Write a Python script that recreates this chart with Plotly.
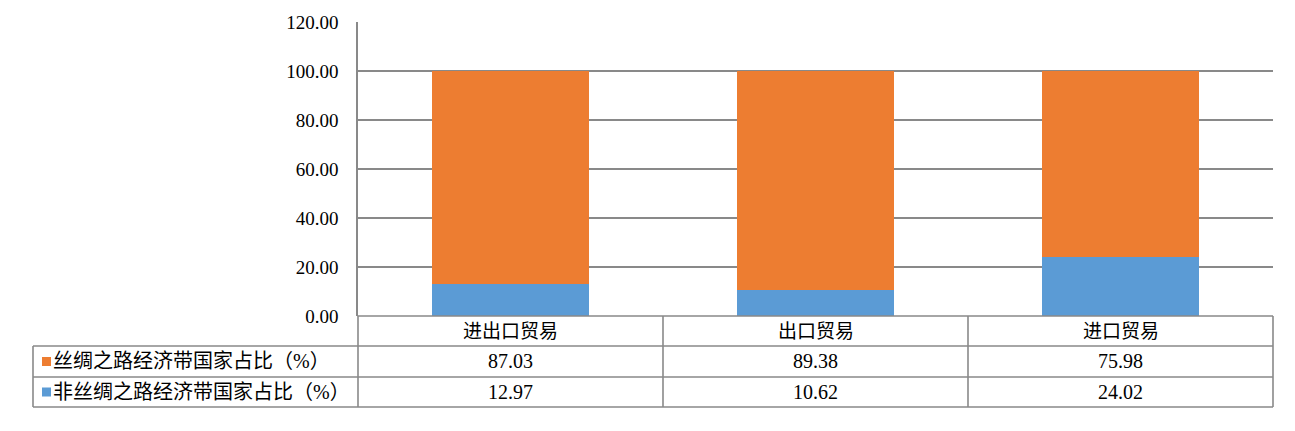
import plotly.graph_objects as go

categories = ["进出口贸易", "出口贸易", "进口贸易"]
series_names = ["丝绸之路经济带国家占比（%）", "非丝绸之路经济带国家占比（%）"]
silk_values = [87.03, 89.38, 75.98]
non_silk_values = [12.97, 10.62, 24.02]
y_ticks = [0, 20, 40, 60, 80, 100, 120]

ORANGE = "#ED7D31"
BLUE = "#5B9BD5"
GRID = "#898989"
FONT = "'Liberation Serif', 'Times New Roman', 'Noto Sans CJK SC', serif"

W, H = 1295, 431
OFF = 8  # page body margin
L, R, T, B = 358, 1273, 22, 316  # plot area pixels (page coordinates)

def px(x):
    return (x - L) / (R - L)

def py(y):
    return (B - y) / (B - T)

fig = go.Figure()
fig.add_trace(go.Bar(x=categories, y=non_silk_values, name=series_names[1],
                     marker=dict(color=BLUE, line=dict(width=0))))
fig.add_trace(go.Bar(x=categories, y=silk_values, name=series_names[0],
                     marker=dict(color=ORANGE, line=dict(width=0))))

LW = 1.6
shapes = []
row_y = [316, 346, 377, 407]
col_x = [358, 663, 968, 1273]
left_x = 33
shapes.append(dict(type="line", xref="paper", yref="paper", x0=px(col_x[0]), x1=px(col_x[-1]),
                   y0=py(row_y[0]), y1=py(row_y[0]), line=dict(color=GRID, width=LW)))
for yy in row_y[1:]:
    shapes.append(dict(type="line", xref="paper", yref="paper", x0=px(left_x), x1=px(col_x[-1]),
                       y0=py(yy), y1=py(yy), line=dict(color=GRID, width=LW)))
for xx in col_x:
    shapes.append(dict(type="line", xref="paper", yref="paper", x0=px(xx), x1=px(xx),
                       y0=py(row_y[0]), y1=py(row_y[-1]), line=dict(color=GRID, width=LW)))
shapes.append(dict(type="line", xref="paper", yref="paper", x0=px(left_x), x1=px(left_x),
                   y0=py(row_y[1]), y1=py(row_y[-1]), line=dict(color=GRID, width=LW)))

annotations = []
nf = dict(family=FONT, size=20, color="black")
cf = dict(family=FONT, size=19, color="black")
lf = dict(family=FONT, size=20, color="black")
for i, cat in enumerate(categories):
    xc = px((col_x[i] + col_x[i + 1]) / 2)
    annotations.append(dict(text=cat, x=xc, y=py((row_y[0] + row_y[1]) / 2), xref="paper", yref="paper",
                            showarrow=False, font=cf, xanchor="center", yanchor="middle"))
    annotations.append(dict(text=f"{silk_values[i]:.2f}", x=xc, y=py((row_y[1] + row_y[2]) / 2),
                            xref="paper", yref="paper", showarrow=False, font=nf,
                            xanchor="center", yanchor="middle"))
    annotations.append(dict(text=f"{non_silk_values[i]:.2f}", x=xc, y=py((row_y[2] + row_y[3]) / 2),
                            xref="paper", yref="paper", showarrow=False, font=nf,
                            xanchor="center", yanchor="middle"))
for name, color, r in [(series_names[0], ORANGE, 1), (series_names[1], BLUE, 2)]:
    yc = (row_y[r] + row_y[r + 1]) / 2
    shapes.append(dict(type="rect", xref="paper", yref="paper", x0=px(left_x + 9), x1=px(left_x + 18),
                       y0=py(yc + 4.5), y1=py(yc - 4.5), fillcolor=color, line=dict(width=0)))
    annotations.append(dict(text=name, x=px(left_x + 18), y=py(yc),
                            xref="paper", yref="paper", showarrow=False, font=lf,
                            xanchor="left", yanchor="middle"))

fig.update_layout(
    width=W, height=H,
    margin=dict(l=L - OFF, r=W - (R - OFF), t=T - OFF, b=H - (B - OFF), pad=0),
    barmode="stack", bargap=0.485,
    plot_bgcolor="white", paper_bgcolor="white",
    showlegend=False,
    font=dict(family=FONT, size=19, color="black"),
    xaxis=dict(showticklabels=False, showgrid=False, showline=False, zeroline=False, ticks="",
               automargin=False),
    yaxis=dict(range=[0, 120], tickvals=y_ticks, tickformat=".2f", showgrid=True,
               gridcolor=GRID, gridwidth=LW, showline=True, linecolor=GRID, linewidth=LW,
               zeroline=False, ticks="", ticklabelstandoff=14, automargin=False,
               tickfont=dict(family=FONT, size=19, color="black")),
    shapes=shapes,
    annotations=annotations,
)

fig.write_html("out.html")
